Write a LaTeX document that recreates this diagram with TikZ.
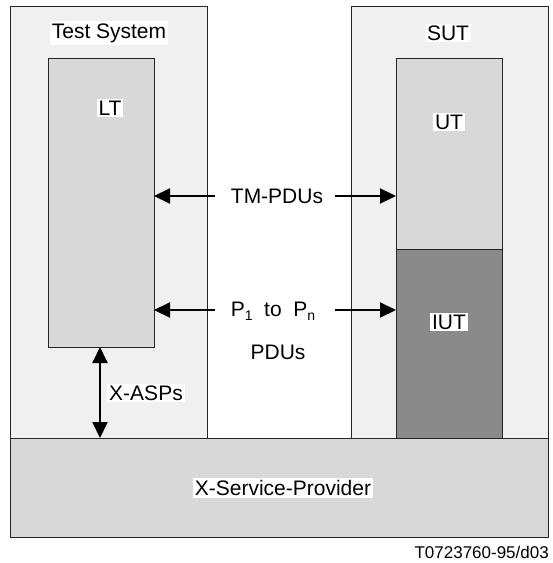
\documentclass[tikz,border=0pt]{standalone}
\usepackage{fontspec}
\setmainfont{Liberation Sans}
\usetikzlibrary{arrows.meta}
\definecolor{panel}{HTML}{F0F0F0}
\definecolor{layer}{HTML}{D8D8D8}
\definecolor{impl}{HTML}{8A8A8A}
\newcommand{\idx}[1]{\raisebox{-0.4ex}{\fontsize{14}{14}\selectfont #1}}
\begin{document}
\begin{tikzpicture}[x=1pt,y=-1pt,
  blk/.style={draw=black!85, line width=1pt, anchor=north west, inner sep=0pt, outer sep=0pt},
  lbl/.style={fill=white, inner sep=2pt, font=\fontsize{21}{25}\selectfont},
  arr/.style={line width=2pt, -{Triangle[length=16pt,width=15pt]}},
  arrboth/.style={line width=2pt, {Triangle[length=16pt,width=15pt]}-{Triangle[length=16pt,width=15pt]}}]
  \useasboundingbox (0,0) rectangle (553,563);
  \fill[white] (0,0) rectangle (553,563);

  % outer frames
  \node[blk, fill=panel, minimum width=197pt, minimum height=432pt] (ts) at (10,6) {};
  \node[blk, fill=panel, minimum width=197pt, minimum height=432pt] (sut) at (351,6) {};

  % inner layers
  \node[blk, fill=layer, minimum width=106pt, minimum height=289pt] (lt) at (48,58) {};
  \node[blk, fill=layer, minimum width=106pt, minimum height=191pt] (ut) at (396,58) {};
  \node[blk, fill=impl, minimum width=106pt, minimum height=190pt] (iut) at (396,249) {};

  % service provider
  \node[blk, fill=layer, minimum width=538pt, minimum height=99pt] (sp) at (10,438) {};

  % labels
  \node[lbl] (tsl) at (109,33) {Test System};
  \node[lbl] (ltl) at (110,108) {LT};
  \node[lbl] (sutl) at (448,33) {SUT};
  \node[lbl] (utl) at (449,122) {UT};
  \node[lbl] (iutl) at (449,322) {IUT};
  \node[lbl] (tm) at (277,196) {TM-PDUs};
  \node[lbl] (pp) at (273,311) {P\idx{1}\hspace{0.55em}to\hspace{0.55em}P\idx{n}};
  \node[lbl] (pdu) at (278,352) {PDUs};
  \node[lbl] (asp) at (146,393) {X-ASPs};
  \node[lbl] (spl) at (283,488) {X-Service-Provider};
  \node[anchor=east, inner sep=0pt, font=\fontsize{17}{19}\selectfont] (ref) at (549,552) {T0723760-95/d03};

  % arrow ends beside the labels
  \coordinate (tmL) at (215,196);
  \coordinate (tmR) at (335,196);
  \coordinate (ppL) at (215,310);
  \coordinate (ppR) at (335,310);
  \coordinate (aspx) at (100,0);

  \draw[arr] (tmL) -- (tmL -| lt.east);
  \draw[arr] (tmR) -- (tmR -| ut.west);
  \draw[arr] (ppL) -- (ppL -| lt.east);
  \draw[arr] (ppR) -- (ppR -| iut.west);
  \draw[arrboth] (aspx |- lt.south) -- (aspx |- sp.north);
\end{tikzpicture}
\end{document}
